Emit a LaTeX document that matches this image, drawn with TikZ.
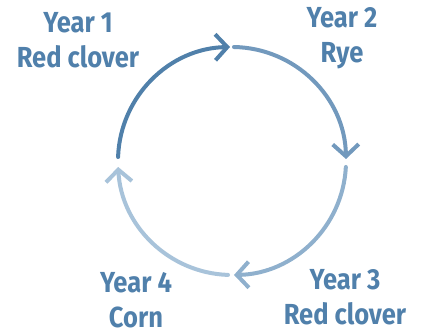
\documentclass[tikz,border=0pt]{standalone}
\usepackage{fontspec}
\setmainfont{Fira Sans}[FakeStretch=0.88]
\usepackage{xcolor}
\usetikzlibrary{arrows.meta,calc}

\definecolor{txtblue}{HTML}{5080AB}
\definecolor{arcone}{HTML}{5080AA}
\definecolor{arctwo}{HTML}{7299BD}
\definecolor{arcthree}{HTML}{8FB0CD}
\definecolor{arcfour}{HTML}{A8C3DA}

\tikzset{
  yearlabel/.style={align=center, anchor=base, text=txtblue,
    font=\fontsize{29}{35}\selectfont\bfseries, inner sep=0pt},
  cyclearc/.style={line width=4pt, line cap=round,
    -{Straight Barb[length=12pt, width=26pt, line width=4pt]}}
}

\begin{document}
\begin{tikzpicture}[x=1pt, y=1pt]
                        \useasboundingbox (0,0) rectangle (422,334);
                        \coordinate (c) at (232,173);

                        % base anchor = baseline of the second line
                        \node (y1) at (78,266) [yearlabel] {Year 1\\Red clover};
                        \node (y2) at (342,271) [yearlabel] {Year 2\\Rye};
                        \node (y3) at (345,10) [yearlabel] {Year 3\\Red clover};
                        \node (y4) at (136,7) [yearlabel] {Year 4\\Corn};

                        \coordinate (a1) at ($(c)+(178:114)$);
                        \coordinate (a2) at ($(c)+(89:114)$);
                        \coordinate (a3) at ($(c)+(-3:114)$);
                        \coordinate (a4) at ($(c)+(-92:114)$);

                        \draw[cyclearc, arcone] (a1) arc (178:91:114);
                        \draw[cyclearc, arctwo] (a2) arc (89:1:114);
                        \draw[cyclearc, arcthree] (a3) arc (-3:-89:114);
                        \draw[cyclearc, arcfour] (a4) arc (-92:-177:114);
                    \end{tikzpicture}
\end{document}
